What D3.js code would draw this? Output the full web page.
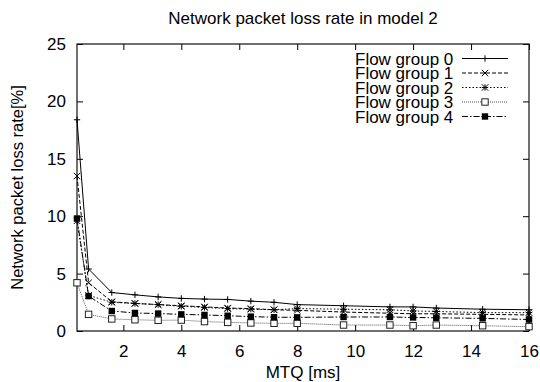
<!DOCTYPE html>
<html>
<head>
<meta charset="utf-8">
<script src="https://cdn.jsdelivr.net/npm/d3@7"></script>
<style>
  html, body { margin: 0; padding: 0; background: #fff; }
  svg { display: block; font-family: "Liberation Sans", Arial, sans-serif; }
</style>
</head>
<body>
<svg id="chart" width="540" height="382"></svg>
<script>
// MTQ values [ms] on the x axis
const mtq = [0.4, 0.8, 1.6, 2.4, 3.2, 4.0, 4.8, 5.6, 6.4, 7.2, 8.0, 9.6, 11.2, 12.0, 12.8, 14.4, 16.0];

// Packet loss rate [%] per flow group
const flow0 = [18.4, 5.4, 3.35, 3.15, 2.97, 2.84, 2.78, 2.75, 2.6, 2.5, 2.3, 2.2, 2.1, 2.1, 2.0, 1.9, 1.85];
const flow1 = [13.5, 4.2, 2.55, 2.4, 2.3, 2.2, 2.1, 2.0, 1.95, 1.85, 1.8, 1.65, 1.55, 1.5, 1.5, 1.45, 1.4];
const flow2 = [9.6, 3.1, 2.5, 2.4, 2.3, 2.15, 2.05, 1.95, 1.9, 1.85, 1.95, 1.9, 1.85, 1.75, 1.7, 1.6, 1.6];
const flow3 = [4.2, 1.45, 1.05, 0.98, 0.93, 0.95, 0.82, 0.75, 0.7, 0.67, 0.67, 0.52, 0.52, 0.46, 0.52, 0.46, 0.38];
const flow4 = [9.8, 3.04, 1.74, 1.57, 1.52, 1.45, 1.4, 1.33, 1.25, 1.2, 1.19, 1.22, 1.22, 1.18, 1.15, 1.1, 1.0];

const groupNames = ["Flow group 0", "Flow group 1", "Flow group 2", "Flow group 3", "Flow group 4"];
const xTicks = [2, 4, 6, 8, 10, 12, 14, 16];
const yTicks = [0, 5, 10, 15, 20, 25];

const seriesValues = [flow0, flow1, flow2, flow3, flow4];
// line dash pattern, colour and point symbol for each flow group
const styles = [
  { dash: null,        color: "#000", symbol: "plus" },
  { dash: "4,2",       color: "#000", symbol: "cross" },
  { dash: "1.5,2",     color: "#000", symbol: "star" },
  { dash: "1,1",       color: "#555", symbol: "box" },
  { dash: "6,2,1.5,2", color: "#000", symbol: "fbox" }
];

const svg = d3.select("#chart");
const margin = { left: 77, right: 11, top: 44, bottom: 51 };
const W = 540, H = 382;

const x = d3.scaleLinear().domain([0.4, 16]).range([margin.left, W - margin.right]);
const y = d3.scaleLinear().domain([0, 25]).range([H - margin.bottom, margin.top]);

const fontSize = 17;
const tickLen = 6;

// Title
svg.append("text")
  .attr("x", (x.range()[0] + x.range()[1]) / 2)
  .attr("y", 24)
  .attr("text-anchor", "middle")
  .attr("font-size", 17)
  .text("Network packet loss rate in model 2");

// Axes with inward ticks on all four sides
const gx = svg.append("g").attr("transform", `translate(0,${y(0)})`)
  .call(d3.axisBottom(x).tickValues(xTicks).tickSize(-tickLen).tickPadding(14).tickFormat(d3.format("d")));
const gxTop = svg.append("g").attr("transform", `translate(0,${y(25)})`)
  .call(d3.axisTop(x).tickValues(xTicks).tickSize(-tickLen).tickFormat(""));
const gy = svg.append("g").attr("transform", `translate(${x(0.4)},0)`)
  .call(d3.axisLeft(y).tickValues(yTicks).tickSize(-tickLen).tickPadding(11).tickFormat(d3.format("d")));
const gyRight = svg.append("g").attr("transform", `translate(${x(16)},0)`)
  .call(d3.axisRight(y).tickValues(yTicks).tickSize(-tickLen).tickFormat(""));

[gx, gxTop, gy, gyRight].forEach(g => {
  g.select(".domain").remove();
  g.selectAll(".tick line").attr("stroke", "#000").attr("stroke-width", 1);
  g.selectAll(".tick text").attr("font-size", fontSize).attr("fill", "#000")
    .attr("font-family", "Liberation Sans, Arial, sans-serif");
});

// Plot frame
svg.append("rect")
  .attr("x", x(0.4)).attr("y", y(25))
  .attr("width", x(16) - x(0.4)).attr("height", y(0) - y(25))
  .attr("fill", "none").attr("stroke", "#111").attr("stroke-width", 1.2);

// Axis titles
svg.append("text")
  .attr("x", (x.range()[0] + x.range()[1]) / 2)
  .attr("y", 378)
  .attr("text-anchor", "middle")
  .attr("font-size", fontSize)
  .text("MTQ [ms]");

svg.append("text")
  .attr("transform", `translate(23,${(y(0) + y(25)) / 2}) rotate(-90)`)
  .attr("text-anchor", "middle")
  .attr("font-size", 16.5)
  .text("Network packet loss rate[%]");

// Point symbols
function drawSymbol(g, type, cx, cy, color) {
  const s = 3.2;
  if (type === "plus" || type === "star") {
    g.append("path").attr("d", `M${cx - s},${cy}H${cx + s}M${cx},${cy - s}V${cy + s}`)
      .attr("stroke", color).attr("stroke-width", 1).attr("fill", "none");
  }
  if (type === "cross" || type === "star") {
    g.append("path").attr("d", `M${cx - s},${cy - s}L${cx + s},${cy + s}M${cx - s},${cy + s}L${cx + s},${cy - s}`)
      .attr("stroke", color).attr("stroke-width", 1).attr("fill", "none");
  }
  if (type === "box") {
    g.append("rect").attr("x", cx - s).attr("y", cy - s).attr("width", 2 * s).attr("height", 2 * s)
      .attr("fill", "#fff").attr("stroke", "#222").attr("stroke-width", 1);
  }
  if (type === "fbox") {
    g.append("rect").attr("x", cx - s).attr("y", cy - s).attr("width", 2 * s).attr("height", 2 * s)
      .attr("fill", "#000");
  }
}

const line = d3.line().x(d => x(d[0])).y(d => y(d[1]));
const plot = svg.append("g");

seriesValues.forEach((vals, i) => {
  const st = styles[i];
  const pts = mtq.map((m, k) => [m, vals[k]]);
  const g = plot.append("g");
  g.append("path").datum(pts).attr("d", line)
    .attr("fill", "none").attr("stroke", st.color).attr("stroke-width", 1)
    .attr("stroke-dasharray", st.dash);
  pts.forEach(p => drawSymbol(g, st.symbol, x(p[0]), y(p[1]), st.color));
});

// Legend
const legend = svg.append("g");
groupNames.forEach((name, i) => {
  const st = styles[i];
  const cy = 58.5 + i * 14.5;
  legend.append("text")
    .attr("x", 355).attr("y", cy + 6)
    .attr("font-size", fontSize)
    .text(name);
  legend.append("line")
    .attr("x1", 462).attr("x2", 508).attr("y1", cy).attr("y2", cy)
    .attr("stroke", st.color).attr("stroke-width", 1).attr("stroke-dasharray", st.dash);
  drawSymbol(legend, st.symbol, 485, cy, st.color);
});
</script>
</body>
</html>
